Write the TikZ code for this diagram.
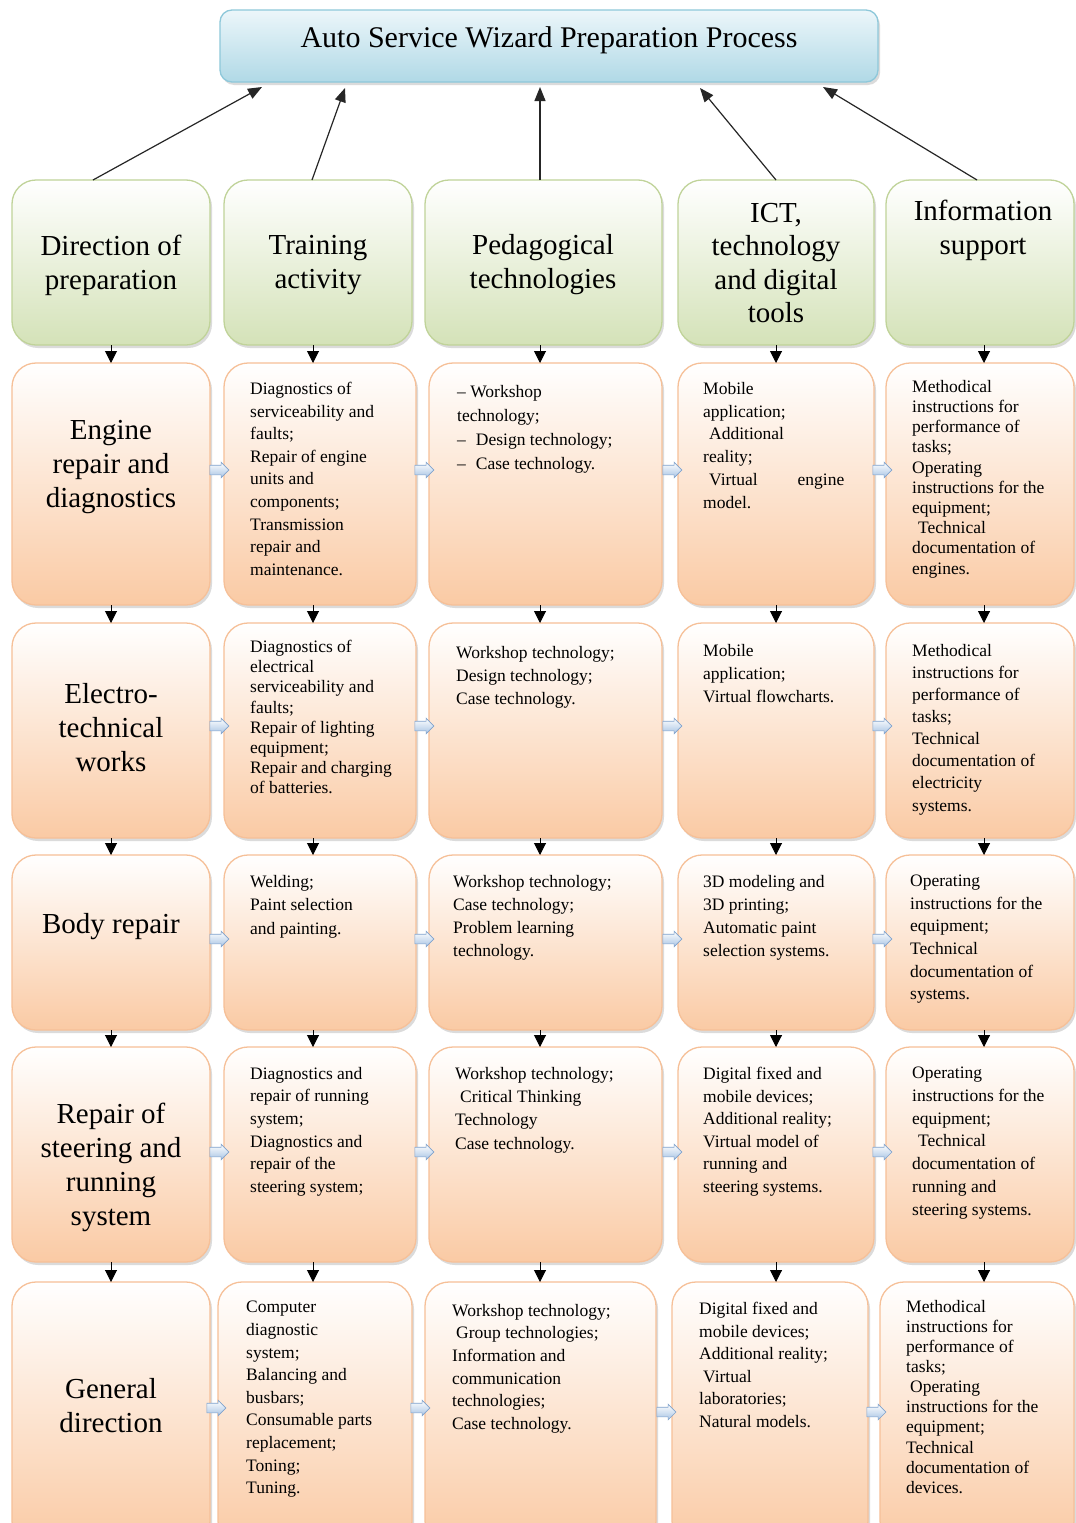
\documentclass[tikz,border=0pt]{standalone}
\usepackage{fontspec}
\setmainfont{Liberation Serif}
\usetikzlibrary{arrows.meta,shapes.arrows,shadows}

\definecolor{peachB}{RGB}{250,202,164}
\definecolor{peachE}{RGB}{246,192,152}
\definecolor{greenB}{RGB}{212,226,184}
\definecolor{greenE}{RGB}{192,211,153}
\definecolor{blueT}{RGB}{236,246,250}
\definecolor{blueB}{RGB}{176,217,230}
\definecolor{blueE}{RGB}{142,200,218}
\definecolor{arrB}{RGB}{168,196,228}
\definecolor{arrE}{RGB}{128,162,204}

\newcommand\bsz[1]{\fontsize{17.5}{#1}\selectfont}
% box from (x1,y1) to (x2,y2), y measured downwards
\newcommand\bx[6]{\node[#2, minimum width={(#5-#3)*1pt}, minimum height={(#6-#4)*1pt}] (#1) at ({(#3+#5)/2},{(#4+#6)/2}) {};}

\tikzset{
  card/.style={rectangle, rounded corners=24pt, line width=1.3pt, outer sep=0pt, inner sep=0pt,
    drop shadow={shadow xshift=2pt, shadow yshift=-3pt, opacity=0.2, fill=black!70}},
  topic/.style={card, draw=peachE, top color=white, bottom color=peachB},
  head/.style={card, draw=greenE, top color=white, bottom color=greenB},
  titlebox/.style={card, rounded corners=12pt, draw=blueE, top color=blueT, bottom color=blueB},
  big/.style={font=\fontsize{29}{34}\selectfont, align=center, inner sep=0pt},
  body/.style={font=\bsz{22.6}, align=left, anchor=north west, inner sep=0pt},
  down/.style={-{Triangle[width=12pt,length=12pt]}, line width=1pt, black},
  up/.style={-{Triangle[width=11pt,length=14pt]}, line width=1.2pt, black!85},
  flow/.style={single arrow, single arrow head extend=3pt, single arrow head indent=0pt,
    minimum height=19pt, inner xsep=0pt, inner ysep=4.5pt, text height=0pt, text depth=0pt,
    outer sep=0pt, draw=arrE, line width=0.6pt, top color=white, bottom color=arrB},
}

\begin{document}
\begin{tikzpicture}[x=1pt,y=-1pt]
\fill[white] (0,0) rectangle (1076,1523);
\useasboundingbox (0,0) rectangle (1076,1523);

% title
\bx{title}{titlebox}{220}{10}{878}{82}
\node[font=\fontsize{30}{34}\selectfont, inner sep=0pt] (titletext) at (549,40) {Auto Service Wizard Preparation Process};

% header row
\bx{h1}{head}{12}{180}{210}{345}
\bx{h2}{head}{224}{180}{412}{345}
\bx{h3}{head}{425}{180}{662}{345}
\bx{h4}{head}{678}{180}{874}{345}
\bx{h5}{head}{886}{180}{1074}{345}
\node[big] (ht1) at (111,265) {Direction of\\preparation};
\node[big] (ht2) at (318,265) {Training\\activity};
\node[big] (ht3) at (543,265) {Pedagogical\\technologies};
\node[big, font=\fontsize{29}{33.3}\selectfont] (ht4) at (776,263) {ICT,\\technology\\and digital\\tools};
\node[big] (ht5) at (983,230) {Information\\support};

% rows of topic boxes
\bx{r11}{topic}{12}{363}{210}{605}
\bx{r12}{topic}{224}{363}{416}{605}
\bx{r13}{topic}{429}{363}{662}{605}
\bx{r14}{topic}{678}{363}{874}{605}
\bx{r15}{topic}{886}{363}{1074}{605}

\bx{r21}{topic}{12}{623}{210}{838}
\bx{r22}{topic}{224}{623}{416}{838}
\bx{r23}{topic}{429}{623}{662}{838}
\bx{r24}{topic}{678}{623}{874}{838}
\bx{r25}{topic}{886}{623}{1074}{838}

\bx{r31}{topic}{12}{855}{210}{1030}
\bx{r32}{topic}{224}{855}{416}{1030}
\bx{r33}{topic}{429}{855}{662}{1030}
\bx{r34}{topic}{678}{855}{874}{1030}
\bx{r35}{topic}{886}{855}{1074}{1030}

\bx{r41}{topic}{12}{1047}{210}{1262}
\bx{r42}{topic}{224}{1047}{416}{1262}
\bx{r43}{topic}{429}{1047}{662}{1262}
\bx{r44}{topic}{678}{1047}{874}{1262}
\bx{r45}{topic}{886}{1047}{1074}{1262}

\bx{r51}{topic}{12}{1282}{210}{1545}
\bx{r52}{topic}{218}{1282}{412}{1545}
\bx{r53}{topic}{425}{1282}{656}{1545}
\bx{r54}{topic}{672}{1282}{868}{1545}
\bx{r55}{topic}{880}{1282}{1074}{1545}

% row 1
\node[big] (t11) at (111,467) {Engine\\repair and\\diagnostics};
\node[body] (t12) at (250,382) {Diagnostics of\\serviceability and\\faults;\\Repair of engine\\units and\\components;\\Transmission\\repair and\\maintenance.};
\node[body, font=\bsz{24}] (t13) at (457,385) {– Workshop\\technology;\\–\hspace*{10pt}Design technology;\\–\hspace*{10pt}Case technology.};
\node[body, font=\bsz{22.8}] (t14) at (703,382) {Mobile\\application;\\\hspace*{6pt}Additional\\reality;\\\hspace*{6pt}Virtual\hspace*{40pt}engine\\model.};
\node[body, font=\bsz{20.2}] (t15) at (912,380) {Methodical\\instructions for\\performance of\\tasks;\\Operating\\instructions for the\\equipment;\\\hspace*{6pt}Technical\\documentation of\\engines.};

% row 2
\node[big] (t21) at (111,728) {Electro-\\technical\\works};
\node[body, font=\bsz{20.2}] (t22) at (250,640) {Diagnostics of\\electrical\\serviceability and\\faults;\\Repair of lighting\\equipment;\\Repair and charging\\of batteries.};
\node[body, font=\bsz{23}] (t23) at (456,646) {Workshop technology;\\Design technology;\\Case technology.};
\node[body, font=\bsz{23}] (t24) at (703,644) {Mobile\\application;\\Virtual flowcharts.};
\node[body, font=\bsz{22.1}] (t25) at (912,644) {Methodical\\instructions for\\performance of\\tasks;\\Technical\\documentation of\\electricity\\systems.};

% row 3
\node[big] (t31) at (111,927) {Body repair};
\node[body, font=\bsz{23.5}] (t32) at (250,875) {Welding;\\Paint selection\\and painting.};
\node[body, font=\bsz{23}] (t33) at (453,875) {Workshop technology;\\Case technology;\\Problem learning\\technology.};
\node[body, font=\bsz{23}] (t34) at (703,875) {3D modeling and\\3D printing;\\Automatic paint\\selection systems.};
\node[body, font=\bsz{22.6}] (t35) at (910,875) {Operating\\instructions for the\\equipment;\\Technical\\documentation of\\systems.};

% row 4
\node[big] (t41) at (111,1167) {Repair of\\steering and\\running\\system};
\node[body] (t42) at (250,1067) {Diagnostics and\\repair of running\\system;\\Diagnostics and\\repair of the\\steering system;};
\node[body, font=\bsz{23.3}] (t43) at (455,1067) {Workshop technology;\\\hspace*{5pt}Critical Thinking\\Technology\\Case technology.};
\node[body] (t44) at (703,1067) {Digital fixed and\\mobile devices;\\Additional reality;\\Virtual model of\\running and\\steering systems.};
\node[body, font=\bsz{22.7}] (t45) at (912,1067) {Operating\\instructions for the\\equipment;\\\hspace*{6pt}Technical\\documentation of\\running and\\steering systems.};

% row 5
\node[big] (t51) at (111,1406) {General\\direction};
\node[body] (t52) at (246,1301) {Computer\\diagnostic\\system;\\Balancing and\\busbars;\\Consumable parts\\replacement;\\Toning;\\Tuning.};
\node[body] (t53) at (452,1304) {Workshop technology;\\\hspace*{4pt}Group technologies;\\Information and\\communication\\technologies;\\Case technology.};
\node[body] (t54) at (699,1302) {Digital fixed and\\mobile devices;\\Additional reality;\\\hspace*{4pt}Virtual\\laboratories;\\Natural models.};
\node[body, font=\bsz{20.1}] (t55) at (906,1300) {Methodical\\instructions for\\performance of\\tasks;\\\hspace*{4pt}Operating\\instructions for the\\equipment;\\Technical\\documentation of\\devices.};

% arrows from the headers up to the title
\draw[up] ([xshift=-18pt]h1.north) -- ([xshift=-287pt,yshift=-5pt]title.south);
\draw[up] ([xshift=-6pt]h2.north) -- ([xshift=-204pt,yshift=-6pt]title.south);
\draw[up] ([xshift=-3.5pt]h3.north) -- ([xshift=-9pt,yshift=-5pt]title.south);
\draw[up] (h4.north) -- ([xshift=151pt,yshift=-6pt]title.south);
\draw[up] ([xshift=-3pt]h5.north) -- ([xshift=274pt,yshift=-5pt]title.south);

% downward arrows between rows
\foreach \c/\x in {1/111,2/313,3/540,4/776,5/984}{
  \draw[down] (\x,0 |- h\c.south) -- (\x,0 |- r1\c.north);
  \foreach \r/\n in {1/2,2/3,3/4,4/5}{
    \draw[down] (\x,0 |- r\r\c.south) -- (\x,0 |- r\n\c.north);
  }
}

% small block arrows between columns
\foreach \r/\y in {1/470,2/726,3/939,4/1152}{
  \node[flow] (f\r1) at (217,\y) {};
  \node[flow] (f\r2) at (422,\y) {};
  \node[flow] (f\r3) at (670,\y) {};
  \node[flow] (f\r4) at (880,\y) {};
}
\node[flow] (f51) at (214,1408) {};
\node[flow] (f52) at (418,1408) {};
\node[flow] (f53) at (664,1412) {};
\node[flow] (f54) at (874,1412) {};
\end{tikzpicture}
\end{document}
